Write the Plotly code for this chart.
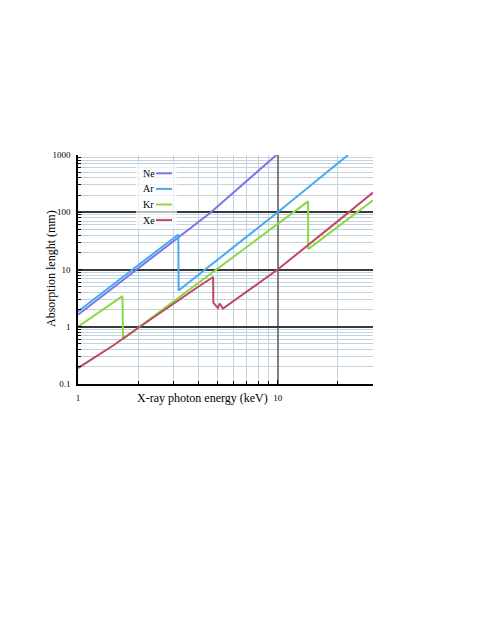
import math
import plotly.graph_objects as go

# photon energy (keV) / absorption length (mm)
ne_x = [1.0, 2.0, 3.17, 4.6, 9.85]
ne_y = [1.62, 10.5, 37.0, 98.0, 1000.0]

ar_x = [1.0, 2.0, 3.18, 3.19, 4.0, 10.0, 22.5]
ar_y = [1.85, 11.9, 41.0, 4.3, 8.0, 100.0, 1000.0]

kr_x = [1.0, 1.67, 1.68, 4.85, 14.2, 14.21, 30.0]
kr_y = [1.0, 3.43, 0.61, 9.5, 155.0, 22.7, 162.0]

xe_x = [1.0, 1.5, 2.0, 3.0, 4.0, 4.75, 4.76, 5.02, 5.12, 5.32, 10.0, 20.0, 30.0]
xe_y = [0.19, 0.47, 0.95, 2.55, 5.0, 7.4, 2.65, 2.12, 2.55, 2.08, 10.0, 70.0, 221.0]

gases = ["Ne", "Ar", "Kr", "Xe"]
colors = ["#7f73e6", "#46aaf0", "#8cd746", "#c04864"]

y_ticks = [0.1, 1, 10, 100, 1000]
y_ticktext = ["0.1", "1", "10", "100", "1000"]
x_ticks = [1, 10]
x_ticktext = ["1", "10"]

font = "Liberation Serif"

fig = go.Figure()
for name, xs, ys, c in zip(gases, [ne_x, ar_x, kr_x, xe_x], [ne_y, ar_y, kr_y, xe_y], colors):
    fig.add_trace(go.Scatter(x=xs, y=ys, mode="lines", name=name,
                             line=dict(color=c, width=2), showlegend=False))

# page has an 8px body margin; plot box on screen: x 78..373, y 155..384
OFF = 8
W, H = 482 - OFF, 623 - OFF
L, R, T, B = 78 - OFF, 373 - OFF, 155 - OFF, 384 - OFF
def px(x):
    return (x - OFF - L) / (R - L)
def py(y):
    return (B - (y - OFF)) / (B - T)

shapes = [dict(type="rect", xref="paper", yref="paper",
               x0=px(136), x1=px(177), y0=py(229), y1=py(164),
               fillcolor="rgba(255,255,255,0.65)", line=dict(width=0), layer="above")]
annotations = []
for i, (name, c) in enumerate(zip(gases, colors)):
    yy = py(173.3 + i * 15.6)
    shapes.append(dict(type="line", xref="paper", yref="paper",
                       x0=px(156), x1=px(172), y0=yy, y1=yy,
                       line=dict(color=c, width=2), layer="above"))
    annotations.append(dict(text=name, xref="paper", yref="paper", x=px(141), y=yy,
                            xanchor="left", yanchor="middle", showarrow=False,
                            font=dict(family=font, size=10, color="black")))

annotations.append(dict(text="X-ray photon energy (keV)", xref="paper", yref="paper",
                        x=px(202), y=py(398), xanchor="center", yanchor="middle",
                        showarrow=False, font=dict(family=font, size=12, color="black")))
annotations.append(dict(text="Absorption lenght (mm)", xref="paper", yref="paper",
                        x=px(51), y=py(269), xanchor="center", yanchor="middle",
                        textangle=-90, showarrow=False,
                        font=dict(family=font, size=12, color="black")))

fig.update_layout(
    width=W, height=H,
    margin=dict(l=L, r=W - R, t=T, b=H - B),
    paper_bgcolor="white", plot_bgcolor="white",
    shapes=shapes, annotations=annotations,
    font=dict(family=font, size=9, color="black"),
)

fig.update_xaxes(
    type="log", range=[0, math.log10(30)],
    tickvals=x_ticks, ticktext=x_ticktext,
    showgrid=True, gridcolor="#808080", gridwidth=2,
    showline=True, linecolor="black", linewidth=1.5,
    ticks="inside", ticklen=4, tickcolor="black",
    ticklabelstandoff=4, zeroline=False,
    minor=dict(dtick="D1", showgrid=True, gridcolor="#c3d3de", gridwidth=1,
               ticks="inside", ticklen=3, tickcolor="black"),
)
fig.update_yaxes(
    type="log", range=[-1, 3],
    tickvals=y_ticks, ticktext=y_ticktext,
    showgrid=True, gridcolor="#3a3a3a", gridwidth=1.5,
    showline=True, linecolor="black", linewidth=1.5,
    ticks="inside", ticklen=4, tickcolor="black",
    ticklabelstandoff=4, zeroline=False,
    minor=dict(dtick="D1", showgrid=True, gridcolor="#c3d3de", gridwidth=1,
               ticks="inside", ticklen=3, tickcolor="black"),
)

fig.write_html("out.html")
